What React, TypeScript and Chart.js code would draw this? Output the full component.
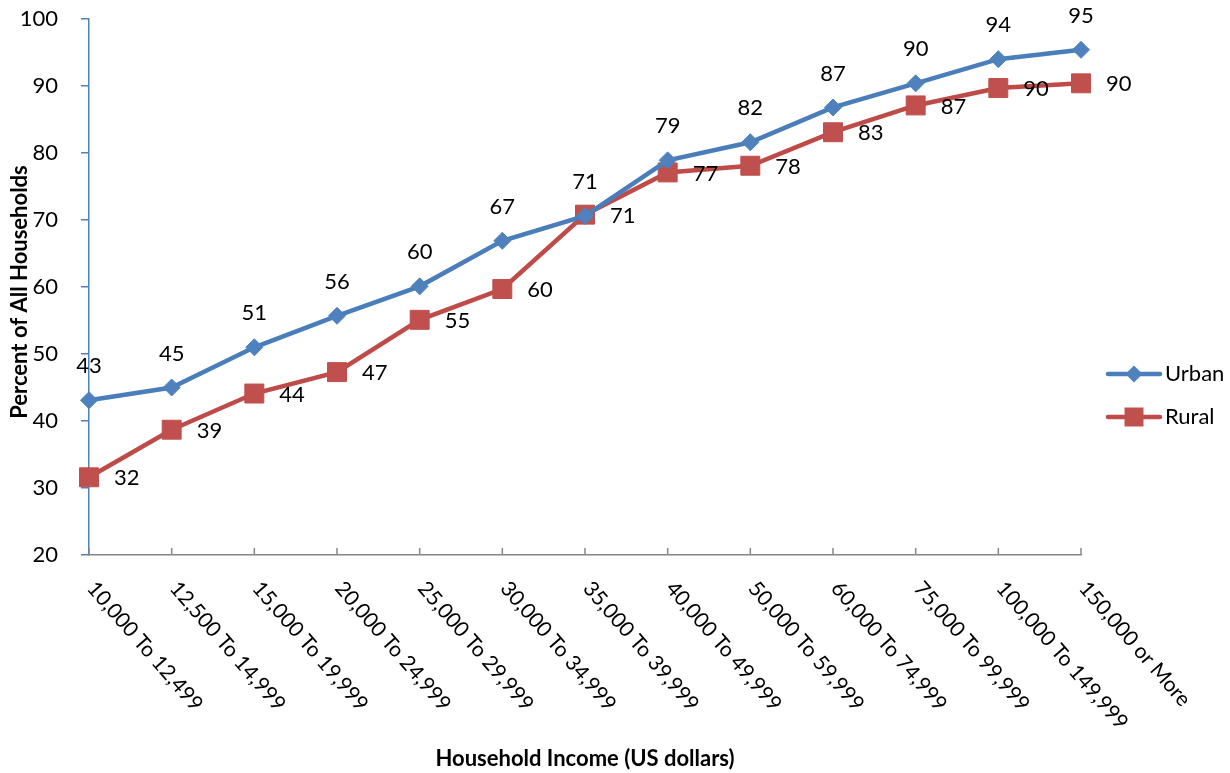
import React, { useEffect, useRef } from "react";
import { Chart, registerables } from "chart.js";

Chart.register(...registerables);

// Household income brackets (US dollars)
const incomeBrackets = [
  "10,000 To 12,499",
  "12,500 To 14,999",
  "15,000 To 19,999",
  "20,000 To 24,999",
  "25,000 To 29,999",
  "30,000 To 34,999",
  "35,000 To 39,999",
  "40,000 To 49,999",
  "50,000 To 59,999",
  "60,000 To 74,999",
  "75,000 To 99,999",
  "100,000 To 149,999",
  "150,000 or More",
];

// Percent of all households, by area
const urbanValues = [43.1, 45.0, 51.0, 55.7, 60.1, 66.9, 70.6, 78.9, 81.6, 86.8, 90.4, 94.0, 95.4];
const ruralValues = [31.6, 38.7, 44.1, 47.3, 55.1, 59.7, 70.8, 77.1, 78.1, 83.1, 87.1, 89.7, 90.4];

const yTicks = [20, 30, 40, 50, 60, 70, 80, 90, 100];

const FONT = "Lato, 'Open Sans', sans-serif";
const URBAN_LINE = "#4a7ebb";
const URBAN_FILL = "#4f81bd";
const RURAL_LINE = "#be4b48";
const RURAL_FILL = "#c0504d";
const AXIS_GRAY = "#868686";

const annotations = {
  id: "annotations",
  afterDraw(chart: any) {
    const { ctx, chartArea, scales } = chart;
    const xScale = scales.x;
    ctx.save();

    // inward tick marks on the category axis
    ctx.strokeStyle = AXIS_GRAY;
    ctx.lineWidth = 1.5;
    for (let i = 0; i < incomeBrackets.length; i++) {
      const x = xScale.getPixelForTick(i);
      ctx.beginPath();
      ctx.moveTo(x, chartArea.bottom);
      ctx.lineTo(x, chartArea.bottom - 7);
      ctx.stroke();
    }

    // slanted category labels
    ctx.fillStyle = "#000";
    ctx.font = `21px ${FONT}`;
    ctx.textAlign = "left";
    ctx.textBaseline = "alphabetic";
    for (let i = 0; i < incomeBrackets.length; i++) {
      const x = xScale.getPixelForTick(i);
      ctx.save();
      ctx.translate(x - 3, chartArea.bottom + 34);
      ctx.rotate((49 * Math.PI) / 180);
      ctx.fillText(incomeBrackets[i], 0, 0);
      ctx.restore();
    }

    // value labels
    ctx.font = `22px ${FONT}`;
    const urbanMeta = chart.getDatasetMeta(0);
    ctx.textAlign = "center";
    ctx.textBaseline = "middle";
    urbanMeta.data.forEach((pt: any, i: number) => {
      ctx.fillText(String(Math.round(urbanValues[i])), pt.x, pt.y - 34);
    });
    const ruralMeta = chart.getDatasetMeta(1);
    ctx.textAlign = "left";
    ruralMeta.data.forEach((pt: any, i: number) => {
      ctx.fillText(String(Math.round(ruralValues[i])), pt.x + 25, pt.y + 1);
    });

    // axis titles
    ctx.font = `bold 22px ${FONT}`;
    ctx.textAlign = "center";
    ctx.textBaseline = "middle";
    ctx.fillText("Household Income (US dollars)", 585, 759);
    ctx.save();
    ctx.translate(20, 292);
    ctx.rotate(-Math.PI / 2);
    ctx.fillText("Percent of All Households", 0, 0);
    ctx.restore();

    // legend
    const legendItems = [
      { label: "Urban", line: URBAN_LINE, fill: URBAN_FILL, y: 374, style: "rectRot", r: 8.5 },
      { label: "Rural", line: RURAL_LINE, fill: RURAL_FILL, y: 417, style: "rect", r: 13.4 },
    ];
    legendItems.forEach((item) => {
      ctx.strokeStyle = item.line;
      ctx.lineWidth = 4.5;
      ctx.lineCap = "round";
      ctx.beginPath();
      ctx.moveTo(1108, item.y);
      ctx.lineTo(1160, item.y);
      ctx.stroke();
      ctx.fillStyle = item.fill;
      if (item.style === "rectRot") {
        ctx.beginPath();
        ctx.moveTo(1134 - item.r, item.y);
        ctx.lineTo(1134, item.y - item.r);
        ctx.lineTo(1134 + item.r, item.y);
        ctx.lineTo(1134, item.y + item.r);
        ctx.closePath();
        ctx.fill();
      } else {
        const s = item.r * Math.SQRT1_2;
        ctx.fillRect(1134 - s, item.y - s, 2 * s, 2 * s);
      }
      ctx.fillStyle = "#000";
      ctx.font = `22px ${FONT}`;
      ctx.textAlign = "left";
      ctx.textBaseline = "middle";
      ctx.fillText(item.label, 1165, item.y);
    });

    ctx.restore();
  },
};

export default function App() {
  const canvasRef = useRef<HTMLCanvasElement | null>(null);

  useEffect(() => {
    if (!canvasRef.current) return;
    const chart = new Chart(canvasRef.current, {
      type: "line",
      data: {
        labels: incomeBrackets,
        datasets: [
          {
            label: "Urban",
            data: urbanValues,
            borderColor: URBAN_LINE,
            borderWidth: 4.5,
            backgroundColor: URBAN_FILL,
            pointStyle: "rectRot",
            pointRadius: 8.5,
            pointHoverRadius: 8.5,
            pointBackgroundColor: URBAN_FILL,
            pointBorderColor: URBAN_FILL,
            pointBorderWidth: 1,
            tension: 0,
            clip: false,
          },
          {
            label: "Rural",
            data: ruralValues,
            borderColor: RURAL_LINE,
            borderWidth: 4.5,
            backgroundColor: RURAL_FILL,
            pointStyle: "rect",
            pointRadius: 13.4,
            pointHoverRadius: 13.4,
            pointBackgroundColor: RURAL_FILL,
            pointBorderColor: RURAL_FILL,
            pointBorderWidth: 1,
            tension: 0,
            clip: false,
          },
        ],
      },
      options: {
        responsive: false,
        animation: false,
        events: [],
        layout: { padding: { top: 19, right: 149, left: 0, bottom: 0 } },
        plugins: {
          legend: { display: false },
          tooltip: { enabled: false },
          title: { display: false },
        },
        scales: {
          x: {
            type: "category",
            offset: false,
            ticks: { display: false },
            grid: { display: false, drawTicks: false },
            border: { display: true, color: AXIS_GRAY, width: 1.5 },
            afterFit: (scale: any) => {
              scale.height = 773 - 555;
              scale.paddingLeft = 0;
              scale.paddingRight = 0;
            },
          },
          y: {
            min: 20,
            max: 100,
            afterBuildTicks: (scale: any) => {
              scale.ticks = yTicks.map((v) => ({ value: v }));
            },
            ticks: {
              color: "#000",
              font: { family: FONT, size: 22 },
              padding: 23,
            },
            grid: {
              display: true,
              drawOnChartArea: false,
              drawTicks: true,
              tickLength: 8,
              color: URBAN_FILL,
              lineWidth: 1.5,
            },
            border: { display: true, color: URBAN_FILL, width: 1.5 },
            afterFit: (scale: any) => {
              scale.width = 89;
              scale.paddingTop = 0;
              scale.paddingBottom = 0;
            },
          },
        },
      },
      plugins: [annotations],
    });
    return () => chart.destroy();
  }, []);

  return (
    <div style={{ position: "fixed", left: 0, top: 0, width: 1230, height: 773, background: "#fff" }}>
      <canvas ref={canvasRef} width={1230} height={773} style={{ display: "block" }} />
    </div>
  );
}
